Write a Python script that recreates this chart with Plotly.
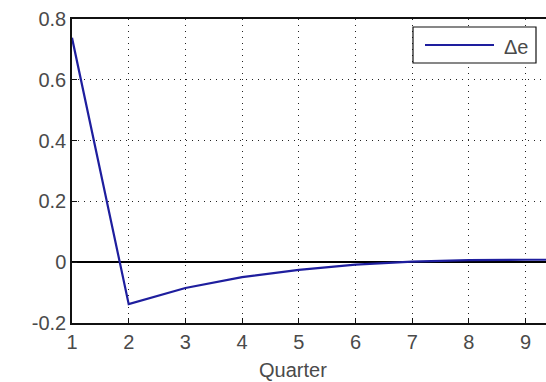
import plotly.graph_objects as go

# Impulse response of the exchange-rate change by quarter
quarters = [1, 2, 3, 4, 5, 6, 7, 8, 9, 10]
delta_e = [0.738, -0.138, -0.085, -0.049, -0.025, -0.008, 0.002, 0.007, 0.008, 0.008]

x_ticks = [1, 2, 3, 4, 5, 6, 7, 8, 9]
y_ticks = [-0.2, 0, 0.2, 0.4, 0.6, 0.8]
y_tick_labels = ["-0.2", "0", "0.2", "0.4", "0.6", "0.8"]

W, H = 546, 382
L, R, T, B = 72, 0, 19, 59
pw, ph = W - L - R, H - T - B

def px_x(p):
    return (p - L) / pw

def px_y(p):
    return (H - B - p) / ph

font = dict(family="Liberation Sans, Arial, sans-serif", size=20, color="#4a4a4a")
grid_dash = "1px,5px"

fig = go.Figure()
fig.add_trace(go.Scatter(
    x=quarters, y=delta_e, mode="lines", name="Δe",
    line=dict(color="#1e1e9e", width=2.2), showlegend=False,
))

fig.update_layout(
    width=W, height=H,
    margin=dict(l=L, r=R, t=T, b=B, pad=0),
    paper_bgcolor="white", plot_bgcolor="white",
    font=font,
    xaxis=dict(
        range=[1, 1 + (W - L) / 56.7], tickvals=x_ticks,
        showgrid=True, gridcolor="#222", griddash=grid_dash, gridwidth=1,
        showline=True, linecolor="#111", linewidth=1.5, mirror=True,
        ticks="inside", ticklen=5, tickcolor="#111",
        zeroline=False, tickfont=font,
    ),
    yaxis=dict(
        range=[-0.2, 0.8], tickvals=y_ticks, ticktext=y_tick_labels,
        showgrid=True, gridcolor="#222", griddash=grid_dash, gridwidth=1,
        showline=True, linecolor="#111", linewidth=1.5,
        ticks="inside", ticklen=5, tickcolor="#111",
        zeroline=True, zerolinecolor="#000", zerolinewidth=2.2,
        tickfont=font,
    ),
)

# x-axis title
fig.add_annotation(
    x=px_x(293), y=px_y(370), xref="paper", yref="paper",
    text="Quarter", showarrow=False, font=font,
    xanchor="center", yanchor="middle",
)

# legend box drawn with shapes
fig.add_shape(
    type="rect", xref="paper", yref="paper",
    x0=px_x(413), x1=px_x(536), y0=px_y(63), y1=px_y(27),
    line=dict(color="#111", width=1.2), fillcolor="white", layer="above",
)
fig.add_shape(
    type="line", xref="paper", yref="paper",
    x0=px_x(425), x1=px_x(494), y0=px_y(45), y1=px_y(45),
    line=dict(color="#1e1e9e", width=2.2), layer="above",
)
fig.add_annotation(
    x=px_x(502), y=px_y(47), xref="paper", yref="paper",
    text="Δe", showarrow=False, font=font,
    xanchor="left", yanchor="middle",
)

fig.write_html("out.html")
